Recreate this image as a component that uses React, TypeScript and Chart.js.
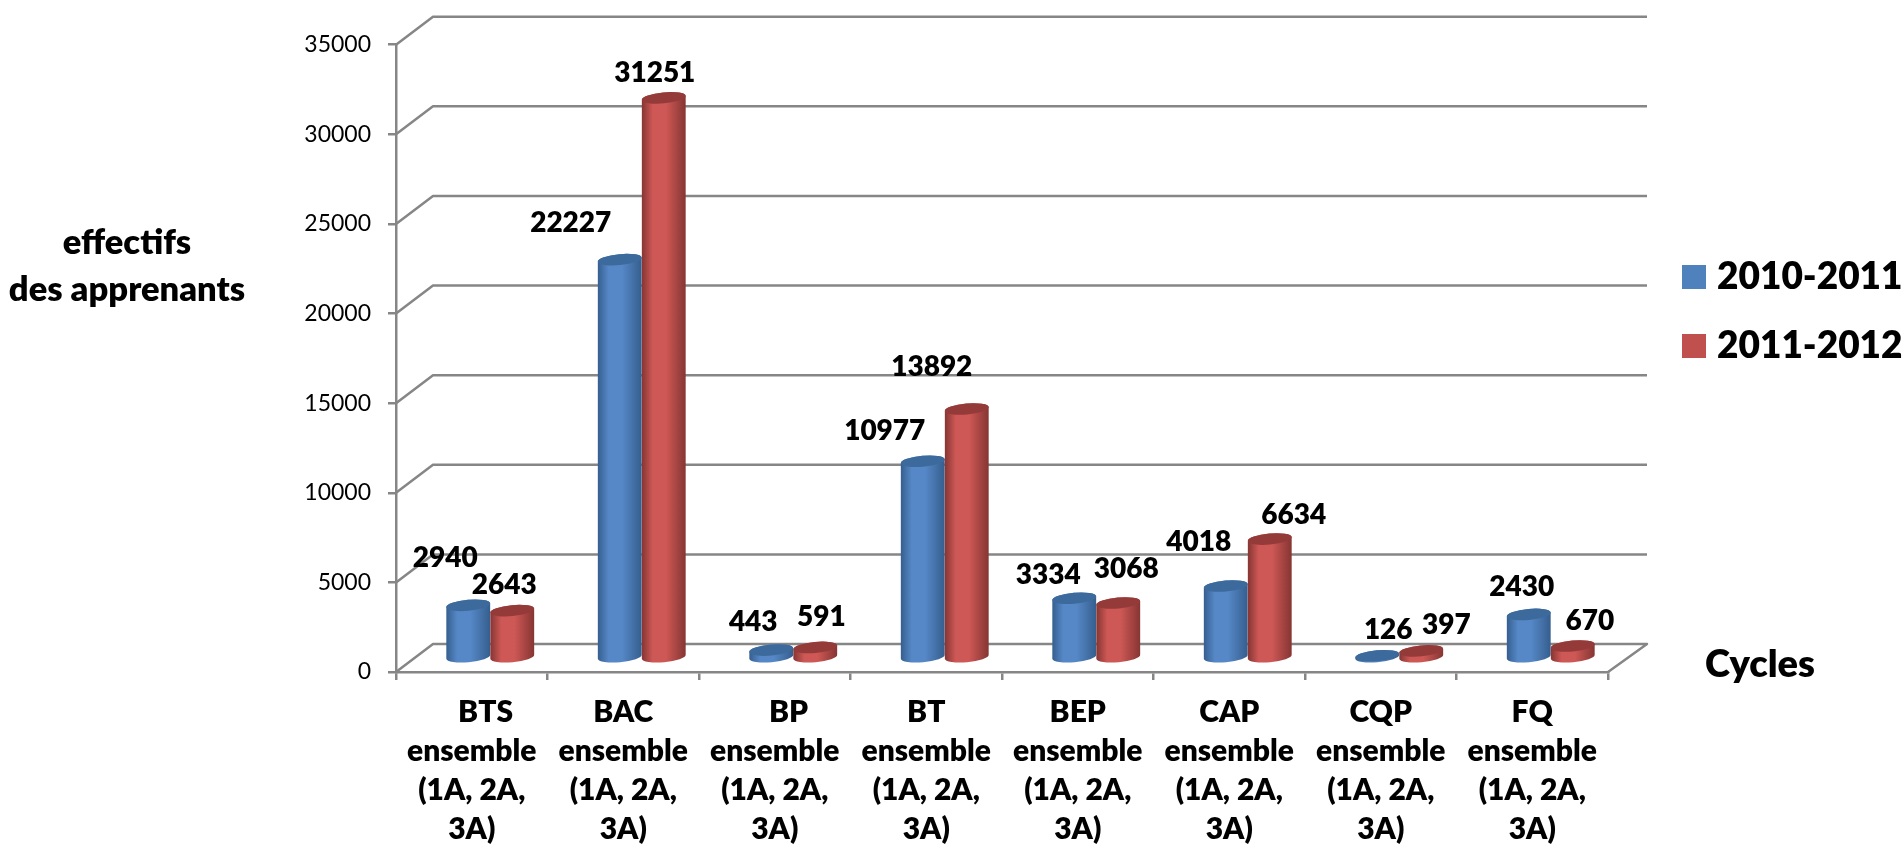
import React, { useEffect, useRef } from "react";
import { Chart, registerables } from "chart.js";

Chart.register(...registerables);

const categories: string[][] = [
  ["    BTS", "ensemble", "(1A, 2A,", "3A)"],
  ["BAC", "ensemble", "(1A, 2A,", "3A)"],
  ["    BP", "ensemble", "(1A, 2A,", "3A)"],
  ["BT", "ensemble", "(1A, 2A,", "3A)"],
  ["BEP", "ensemble", "(1A, 2A,", "3A)"],
  ["CAP", "ensemble", "(1A, 2A,", "3A)"],
  ["CQP", "ensemble", "(1A, 2A,", "3A)"],
  ["FQ", "ensemble", "(1A, 2A,", "3A)"],
];
const series2010 = [2940, 22227, 443, 10977, 3334, 4018, 126, 2430];
const series2011 = [2643, 31251, 591, 13892, 3068, 6634, 397, 670];
const seriesNames = ["2010-2011", "2011-2012"];
const yTitleLines = ["effectifs", "des apprenants"];
const xTitle = "Cycles";

// Manual data-label nudges (dx, dy) from each cylinder's top centre, as in the source chart.
const labelNudges2010 = [[-23, -47], [-49, -37], [-18, -28], [-38, -30], [-26, -23], [-27, -44], [11, -26], [-7, -27]];
const labelNudges2011 = [[-8, -26], [-9, -25], [6, -30], [-35, -42], [8, -34], [24, -24], [25, -26], [17, -25]];
const labelNudges = [labelNudges2010, labelNudges2011];

const BOLD = "Lato";
const HEAVY = "800";
const AXIS = "#868686";
const WALL_DX = 37;
const WALL_DY = -28;
const BAR_DX = 18.5;
const BAR_DY = -14;
const shades = [
  { edge: "#355E8E", mid: "#5688C7", top: "#3D6A9C" },
  { edge: "#853533", mid: "#CE5855", top: "#943A39" },
];

const wallPlugin = {
  id: "wall",
  beforeDatasetsDraw(chart: any) {
    const { ctx, scales, chartArea } = chart;
    ctx.save();
    ctx.strokeStyle = AXIS;
    ctx.lineWidth = 2.5;
    ctx.lineJoin = "round";
    for (const t of scales.y.ticks) {
      const y = scales.y.getPixelForValue(t.value);
      ctx.beginPath();
      ctx.moveTo(chartArea.left, y);
      ctx.lineTo(chartArea.left + WALL_DX, y + WALL_DY);
      ctx.lineTo(chartArea.right + WALL_DX + 2, y + WALL_DY);
      if (t.value === 0) ctx.lineTo(chartArea.right, y);
      ctx.stroke();
    }
    ctx.restore();
  },
};

const cylinderPlugin = {
  id: "cylinder",
  beforeDatasetDraw() {
    return false;
  },
  afterDatasetsDraw(chart: any) {
    const { ctx } = chart;
    const rot = -0.09;
    const ry = 5.5;
    chart.data.datasets.forEach((_: any, di: number) => {
      const c = shades[di];
      chart.getDatasetMeta(di).data.forEach((bar: any) => {
        const cx = bar.x + BAR_DX;
        const rx = bar.width / 2;
        const topY = bar.y + BAR_DY;
        const baseY = bar.base + BAR_DY;
        const g = ctx.createLinearGradient(cx - rx, 0, cx + rx, 0);
        g.addColorStop(0, c.edge);
        g.addColorStop(0.25, c.mid);
        g.addColorStop(0.55, c.mid);
        g.addColorStop(1, c.edge);
        ctx.save();
        ctx.fillStyle = g;
        ctx.beginPath();
        ctx.ellipse(cx, baseY, rx, ry, rot, 0, Math.PI);
        ctx.ellipse(cx, topY, rx, ry, rot, Math.PI, 0);
        ctx.closePath();
        ctx.fill();
        ctx.fillStyle = c.top;
        ctx.beginPath();
        ctx.ellipse(cx, topY, rx, ry, rot, 0, Math.PI * 2);
        ctx.fill();
        ctx.restore();
      });
    });
    // data labels
    ctx.save();
    ctx.fillStyle = "#000";
    ctx.font = `${HEAVY} 28px ${BOLD}`;
    ctx.textAlign = "center";
    ctx.textBaseline = "middle";
    chart.data.datasets.forEach((ds: any, di: number) => {
      chart.getDatasetMeta(di).data.forEach((bar: any, i: number) => {
        const [dx, dy] = labelNudges[di][i];
        ctx.fillText(String(ds.data[i]), bar.x + BAR_DX + dx, bar.y + BAR_DY + dy);
      });
    });
    ctx.restore();
  },
};

const annotationsPlugin = {
  id: "annotations",
  afterDraw(chart: any) {
    const { ctx } = chart;
    ctx.save();
    ctx.fillStyle = "#000";
    ctx.textBaseline = "middle";
    ctx.font = `${HEAVY} 34.5px ${BOLD}`;
    ctx.textAlign = "center";
    ctx.fillText(yTitleLines[0], 127, 243);
    ctx.fillText(yTitleLines[1], 127, 290);
    ctx.font = `${HEAVY} 38px ${BOLD}`;
    ctx.fillText(xTitle, 1760, 665);
    ctx.textAlign = "left";
    ctx.font = `${HEAVY} 37px ${BOLD}`;
    chart.data.datasets.forEach((ds: any, i: number) => {
      const y = 277 + i * 69;
      ctx.fillStyle = ds.backgroundColor;
      ctx.fillRect(1682, y - 12, 24, 24);
      ctx.fillStyle = "#000";
      ctx.fillText(ds.label, 1717, y);
    });
    ctx.restore();
  },
};

export default function App() {
  const ref = useRef<HTMLCanvasElement>(null);
  useEffect(() => {
    document.body.style.margin = "0";
    document.body.style.background = "#fff";
    const chart = new Chart(ref.current!, {
      type: "bar",
      data: {
        labels: categories as any,
        datasets: [
          { label: seriesNames[0], data: series2010, backgroundColor: "#4F81BD" },
          { label: seriesNames[1], data: series2011, backgroundColor: "#C0504D" },
        ],
      },
      plugins: [wallPlugin, cylinderPlugin, annotationsPlugin],
      options: {
        responsive: false,
        devicePixelRatio: 1,
        animation: false,
        categoryPercentage: 0.581,
        barPercentage: 1,
        layout: { padding: { left: 276, right: 295, top: 44.7, bottom: 0 } },
        plugins: { legend: { display: false }, tooltip: { enabled: false } },
        scales: {
          x: {
            afterFit: (s: any) => { s.height = 172; },
            grid: { drawOnChartArea: false, tickLength: 8, color: AXIS, lineWidth: 2.5 },
            border: { color: AXIS, width: 2.5 },
            ticks: {
              autoSkip: false,
              maxRotation: 0,
              minRotation: 0,
              padding: 13,
              color: "#000",
              font: { family: BOLD, weight: HEAVY, size: 30, lineHeight: "39px" },
            },
          },
          y: {
            min: 0,
            max: 35000,
            afterFit: (s: any) => { s.width = 120; },
            grid: { drawOnChartArea: false, tickLength: 8, color: AXIS, lineWidth: 2.5 },
            border: { color: AXIS, width: 2.5 },
            ticks: {
              stepSize: 5000,
              padding: 17,
              color: "#000",
              font: { family: "Lato", weight: "400", size: 23 },
              callback: (v: any) => String(v),
            },
          },
        },
      } as any,
    });
    return () => chart.destroy();
  }, []);
  return <canvas ref={ref} width={1903} height={844} style={{ display: "block" }} />;
}
